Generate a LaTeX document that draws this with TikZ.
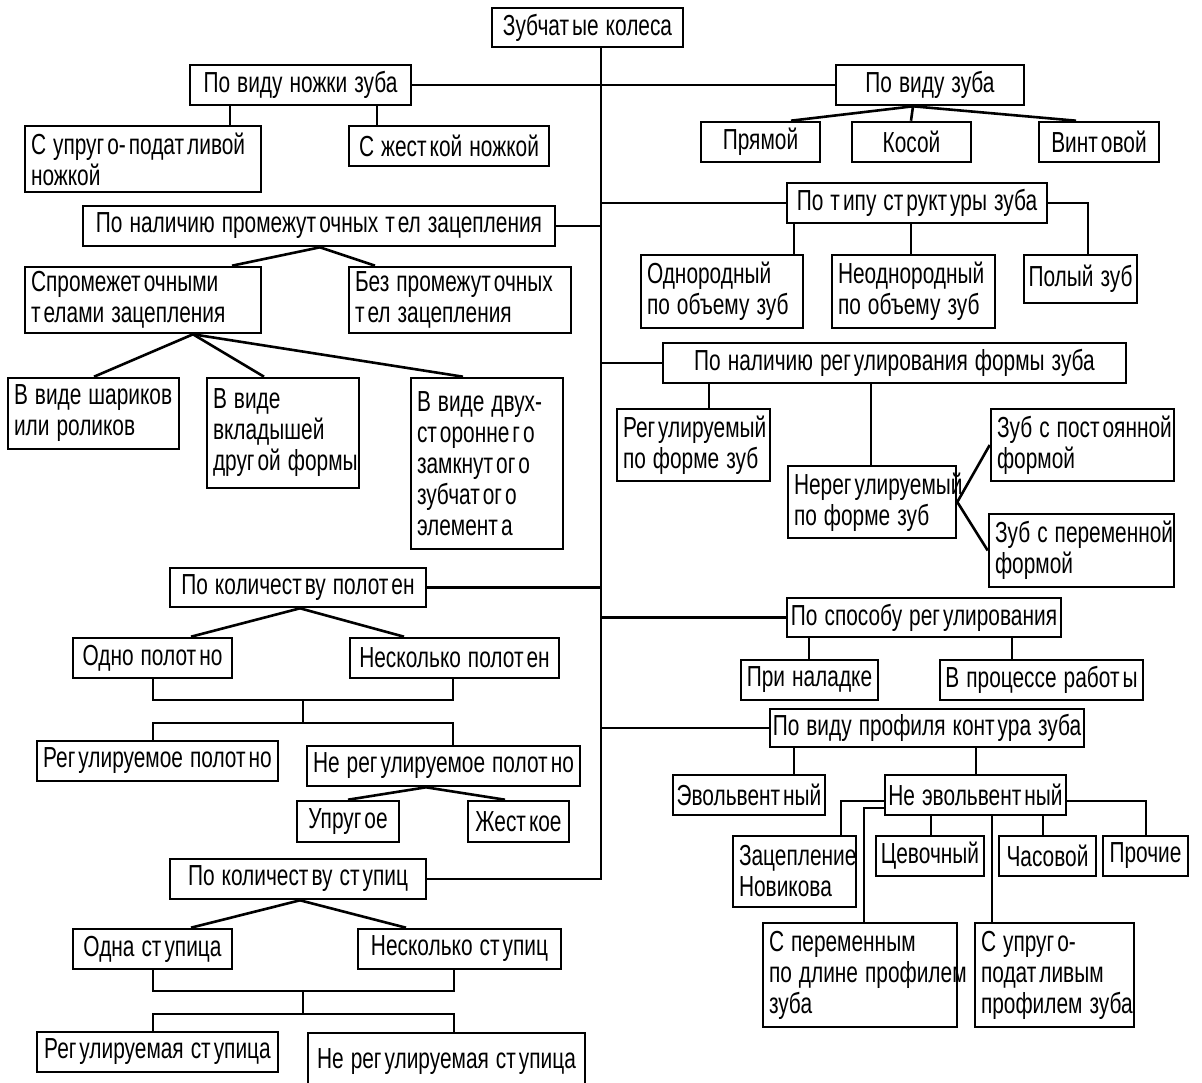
\documentclass[tikz,border=0pt]{standalone}
\usepackage{fontspec}
\setmainfont{Liberation Sans}[FakeStretch=0.72]
\newcommand\setsp{\spaceskip=7pt\relax}
\tikzset{
  every node/.style={font=\fontsize{29pt}{31pt}\selectfont},
  cbox/.style={draw, line width=2.6pt, rectangle, inner sep=0pt, align=center, execute at begin node=\setsp},
  lbox/.style={draw, line width=2.6pt, rectangle, inner xsep=6pt, inner ysep=0pt, align=left, execute at begin node=\setsp},
  conn/.style={line width=2.6pt}
}
\newcommand\cb[6]{\node[cbox, minimum width={(#4-#2)*1pt}, minimum height={(#5-#3)*1pt}] (#1) at ({(#2+#4)/2},{(#3+#5)/2}) {#6};}
\newcommand\lb[6]{\pgfmathsetmacro\mytw{#4-#2-12}\node[lbox, text width=\mytw pt, minimum width={(#4-#2)*1pt}, minimum height={(#5-#3)*1pt}] (#1) at ({(#2+#4)/2},{(#3+#5)/2}) {#6};}
\newcommand\txl[1]{\mbox{\spaceskip=7pt\xspaceskip=7pt\relax #1}}
\newcommand\gp{\hspace{3pt}}
\begin{document}
\begin{tikzpicture}[x=1pt,y=-1pt]
\useasboundingbox (0,0) rectangle (1202,1082);
\coordinate (tr) at (601,0);
% root
\cb{root}{492}{8}{683}{47}{Зубчат\gp ые колеса}
% left branch 1
\cb{nv1}{190}{65}{411}{105}{По виду ножки зуба}
\lb{la}{25}{126}{261}{192}{\txl{С упруг\gp о-\gp подат\gp ливой}\\\txl{ножкой}}
\cb{lb}{349}{126}{549}{166}{С жест\gp кой ножкой}
% left branch 2
\cb{np}{83}{206}{555}{246}{По наличию промежут\gp очных т\gp ел зацепления}
\lb{pa}{25}{267}{261}{333}{\txl{Спромежет\gp очными}\\\txl{т\gp елами зацепления}}
\lb{pb}{349}{267}{571}{333}{\txl{Без промежут\gp очных}\\\txl{т\gp ел зацепления}}
\lb{s1}{8}{378}{179}{449}{\txl{В виде шариков}\\\txl{или роликов}}
\lb{s2}{207}{378}{359}{488}{\txl{В виде}\\\txl{вкладышей}\\\txl{друг\gp ой формы}}
\lb{s3}{411}{378}{563}{549}{\txl{В виде двух-}\\\txl{ст\gp оронне\gp г\gp о}\\\txl{замкнут\gp ог\gp о}\\\txl{зубчат\gp ог\gp о}\\\txl{элемент\gp а}}
% left branch 3
\cb{kp}{170}{568}{426}{607}{По количест\gp ву полот\gp ен}
\cb{o1}{73}{638}{232}{678}{Одно полот\gp но}
\cb{o2}{350}{638}{559}{678}{Несколько полот\gp ен}
\cb{q1}{37}{741}{278}{781}{Рег\gp улируемое полот\gp но}
\cb{q2}{307}{746}{580}{786}{Не рег\gp улируемое полот\gp но}
\cb{u1}{297}{801}{399}{842}{Упруг\gp ое}
\cb{u2}{468}{801}{569}{842}{Жест\gp кое}
% left branch 4
\cb{ks}{170}{859}{426}{899}{По количест\gp ву ст\gp упиц}
\cb{c1}{73}{929}{232}{969}{Одна ст\gp упица}
\cb{c2}{358}{929}{561}{969}{Несколько ст\gp упиц}
\cb{g1}{37}{1032}{278}{1072}{Рег\gp улируемая ст\gp упица}
\cb{g2}{308}{1033}{585}{1091}{Не рег\gp улируемая ст\gp упица}
% right branch 1
\cb{vz}{836}{65}{1024}{105}{По виду зуба}
\cb{z1}{701}{122}{820}{162}{Прямой}
\cb{z2}{852}{122}{971}{162}{Косой}
\cb{z3}{1039}{122}{1159}{162}{Винт\gp овой}
% right branch 2
\cb{ts}{787}{183}{1047}{223}{По т\gp ипу ст\gp рукт\gp уры зуба}
\lb{t1}{641}{255}{803}{328}{\txl{Однородный}\\\txl{по объему зуб}}
\lb{t2}{832}{255}{995}{328}{\txl{Неоднородный}\\\txl{по объему зуб}}
\cb{t3}{1024}{255}{1137}{303}{Полый зуб}
% right branch 3
\cb{rf}{663}{343}{1126}{383}{По наличию рег\gp улирования формы зуба}
\lb{r1}{617}{409}{770}{481}{\txl{Рег\gp улируемый}\\\txl{по форме зуб}}
\lb{r2}{788}{466}{956}{538}{\txl{Нерег\gp улируемый}\\\txl{по форме зуб}}
\lb{r3}{991}{409}{1174}{481}{\txl{Зуб с пост\gp оянной}\\\txl{формой}}
\lb{r4}{989}{514}{1174}{587}{\txl{Зуб с переменной}\\\txl{формой}}
% right branch 4
\cb{sp}{787}{598}{1061}{637}{По способу рег\gp улирования}
\cb{sa}{741}{660}{878}{700}{При наладке}
\cb{sb}{940}{660}{1143}{700}{В процессе работ\gp ы}
% right branch 5
\cb{pp}{770}{709}{1084}{747}{По виду профиля конт\gp ура зуба}
\cb{e1}{673}{775}{825}{815}{Эвольвент\gp ный}
\cb{e2}{885}{775}{1066}{815}{Не эвольвент\gp ный}
\lb{n1}{733}{836}{856}{907}{\txl{Зацепление}\\\txl{Новикова}}
\cb{n2}{876}{836}{984}{876}{Цевочный}
\cb{n3}{999}{836}{1096}{876}{Часовой}
\cb{n4}{1103}{836}{1188}{876}{Прочие}
\lb{n5}{763}{923}{957}{1027}{\txl{С переменным}\\\txl{по длине профилем}\\\txl{зуба}}
\lb{n6}{975}{923}{1134}{1027}{\txl{С упруг\gp о-}\\\txl{подат\gp ливым}\\\txl{профилем зуба}}
% junction coordinates
\coordinate (b1) at (303,700);
\coordinate (b2) at (303,723);
\coordinate (d1) at (303,991);
\coordinate (d2) at (303,1014);
% ---- connectors ----
\begin{scope}[conn]
% trunk
\draw (root.south -| tr) -- (tr |- ks.east) -- (ks.east);
\draw (nv1.east) -- (nv1.east -| tr);
\draw (np.east) -- (np.east -| tr);
\draw (kp.east) -- (kp.east -| tr);
\draw (vz.west) -- (vz.west -| tr);
\draw (ts.west) -- (ts.west -| tr);
\draw (rf.west) -- (rf.west -| tr);
\draw (sp.west) -- (sp.west -| tr);
\draw (pp.west) -- (pp.west -| tr);
% left 1
\draw (nv1.south -| 230,0) -- (la.north -| 230,0);
\draw (nv1.south -| 377,0) -- (lb.north -| 377,0);
% left 2
\draw (np.south -| 320,0) -- (pa.north -| 232,0);
\draw (np.south -| 320,0) -- (pb.north -| 375,0);
\draw (pa.south -| 193,0) -- (s1.north -| 94,0);
\draw (pa.south -| 193,0) -- (s2.north -| 264,0);
\draw (pa.south -| 193,0) -- (s3.north -| 463,0);
% left 3
\draw (kp.south -| 300,0) -- (o1.north -| 191,0);
\draw (kp.south -| 300,0) -- (o2.north -| 404,0);
\draw (o1.south -| 153,0) |- (b1) -| (o2.south -| 453,0);
\draw (b1) -- (b2);
\draw (q1.north -| 153,0) |- (b2) -| (q2.north -| 453,0);
\draw (q2.south -| 426,0) -- (u1.north -| 348,0);
\draw (q2.south -| 426,0) -- (u2.north -| 505,0);
% left 4
\draw (ks.south -| 300,0) -- (c1.north -| 191,0);
\draw (ks.south -| 300,0) -- (c2.north -| 406,0);
\draw (c1.south -| 153,0) |- (d1) -| (c2.south -| 454,0);
\draw (d1) -- (d2);
\draw (g1.north -| 153,0) |- (d2) -| (g2.north -| 454,0);
% right 1
\draw (vz.south -| 913,0) -- (z1.north -| 791,0);
\draw (vz.south -| 913,0) -- (z2.north -| 911,0);
\draw (vz.south -| 913,0) -- (z3.north -| 1076,0);
% right 2
\draw (ts.south -| 794,0) -- (t1.north -| 794,0);
\draw (ts.south -| 911,0) -- (t2.north -| 911,0);
\draw (ts.east) -| (t3.north -| 1088,0);
% right 3
\draw (rf.south -| 709,0) -- (r1.north -| 709,0);
\draw (rf.south -| 871,0) -- (r2.north -| 871,0);
\draw (r2.east) -- (r3.west);
\draw (r2.east) -- (r4.west);
% right 4
\draw (sp.south -| 809,0) -- (sa.north -| 809,0);
\draw (sp.south -| 1012,0) -- (sb.north -| 1012,0);
% right 5
\draw (pp.south -| 794,0) -- (e1.north -| 794,0);
\draw (pp.south -| 976,0) -- (e2.north -| 976,0);
\draw (e2.west |- 0,801) -| (n1.north -| 841,0);
\draw (e2.west |- 0,808) -| (n5.north -| 864,0);
\draw (e2.east |- 0,801) -| (n4.north -| 1146,0);
\draw (e2.south -| 931,0) -- (n2.north -| 931,0);
\draw (e2.south -| 1043,0) -- (n3.north -| 1043,0);
\draw (e2.south -| 992,0) -- (n6.north -| 992,0);
\end{scope}
\end{tikzpicture}
\end{document}
